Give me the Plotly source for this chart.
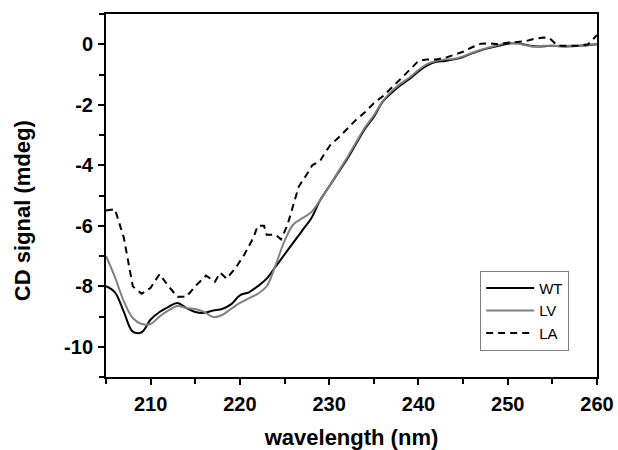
import plotly.graph_objects as go

# wavelength grid (nm) for WT and LV
wavelength = list(range(205, 261))

wt = [-8.0, -8.2, -8.85, -9.5, -9.52, -9.1, -8.85, -8.68, -8.55, -8.72,
      -8.85, -8.88, -8.8, -8.75, -8.6, -8.3, -8.2, -8.0, -7.75, -7.35,
      -6.95, -6.55, -6.15, -5.75, -5.15, -4.7, -4.25, -3.8, -3.3, -2.8,
      -2.4, -1.9, -1.6, -1.35, -1.15, -0.9, -0.7, -0.58, -0.55, -0.5,
      -0.42, -0.3, -0.2, -0.12, -0.05, 0.02, 0.03, -0.02, -0.07, -0.07,
      -0.05, -0.07, -0.07, -0.05, -0.03, 0.0]

lv = [-7.0, -7.7, -8.5, -9.05, -9.25, -9.25, -9.0, -8.8, -8.65, -8.72,
      -8.75, -8.85, -9.02, -8.95, -8.75, -8.55, -8.4, -8.25, -8.0, -7.3,
      -6.5, -5.95, -5.75, -5.55, -5.15, -4.7, -4.22, -3.75, -3.25, -2.75,
      -2.35, -1.88, -1.55, -1.3, -1.1, -0.85, -0.65, -0.55, -0.5, -0.48,
      -0.4, -0.28, -0.18, -0.1, -0.02, 0.05, 0.03, -0.03, -0.08, -0.05,
      -0.05, -0.07, -0.05, -0.05, -0.02, 0.0]

# LA series (coarser)
la_wavelength = [205, 206, 207, 208, 209, 210, 211, 212, 213, 214,
                 215, 216.2, 217.2, 217.8, 218.5, 219.5, 220.5, 221.5, 222, 222.7,
                 223, 224, 224.6, 225.3, 226, 226.6, 227.5, 228.1, 229, 229.5,
                 230.2, 231, 232, 233, 234, 235, 236, 237, 238, 239,
                 240, 241, 242, 243, 244, 245, 246, 247, 248, 249,
                 250, 251, 252, 253, 254, 254.7, 255.5, 256, 257, 258,
                 259, 260]
la = [-5.5, -5.45, -6.4, -8.0, -8.25, -8.05, -7.6, -8.0, -8.35, -8.35,
      -8.0, -7.65, -7.85, -7.55, -7.75, -7.4, -6.95, -6.4, -6.0, -6.0,
      -6.3, -6.3, -6.45, -6.0, -5.3, -4.7, -4.3, -4.0, -3.85, -3.6,
      -3.3, -3.1, -2.8, -2.5, -2.25, -1.95, -1.72, -1.45, -1.15, -0.85,
      -0.55, -0.5, -0.5, -0.45, -0.35, -0.25, -0.1, 0.02, 0.03, 0.0,
      0.05, 0.08, 0.1, 0.18, 0.22, 0.2, -0.03, -0.05, -0.05, -0.05,
      0.0, 0.3]

x_ticks = [210, 220, 230, 240, 250, 260]
x_labels = ["210", "220", "230", "240", "250", "260"]
y_ticks = [0, -2, -4, -6, -8, -10]
y_labels = ["0", "-2", "-4", "-6", "-8", "-10"]
x_title = "wavelength (nm)"
y_title = "CD signal (mdeg)"

FONT = "Liberation Sans, Arial, sans-serif"

fig = go.Figure()
fig.add_trace(go.Scatter(x=wavelength, y=wt, name="WT", mode="lines",
                         line=dict(color="#000000", width=2, shape="spline")))
fig.add_trace(go.Scatter(x=wavelength, y=lv, name="LV", mode="lines",
                         line=dict(color="#808080", width=2, shape="spline")))
fig.add_trace(go.Scatter(x=la_wavelength, y=la, name="LA", mode="lines",
                         line=dict(color="#000000", width=2, dash="7px,5px")))

axis_common = dict(
    showgrid=False, zeroline=False, showline=True, linecolor="#000",
    linewidth=2, mirror=True, ticks="outside", ticklen=6, tickwidth=1.5,
    tickcolor="#000", automargin=False,
    tickfont=dict(family=FONT, size=20, color="#000", weight="bold"),
)

fig.update_layout(
    width=618, height=450,
    margin=dict(l=106, r=21, t=14, b=73),
    plot_bgcolor="white", paper_bgcolor="white",
    xaxis=dict(range=[205, 260], tickvals=x_ticks, ticktext=x_labels,
               ticklabelstandoff=2,
               minor=dict(dtick=5, tick0=205, ticks="outside", ticklen=5,
                          tickwidth=1.5, tickcolor="#000"),
               title=dict(text=x_title, standoff=19,
                          font=dict(family=FONT, size=22, color="#000", weight="bold")),
               **axis_common),
    yaxis=dict(range=[-11, 1], tickvals=y_ticks, ticktext=y_labels,
               ticklabelstandoff=1,
               minor=dict(dtick=1, tick0=-11, ticks="outside", ticklen=5,
                          tickwidth=1.5, tickcolor="#000"),
               **axis_common),
    annotations=[dict(text=y_title, textangle=-90, xref="paper", yref="paper",
                      x=-0.171, y=0.457, xanchor="center", yanchor="middle",
                      showarrow=False,
                      font=dict(family=FONT, size=22, color="#000", weight="bold"))],
    legend=dict(x=0.762, y=0.293, xanchor="left", yanchor="top",
                bordercolor="#808080", borderwidth=1, bgcolor="white",
                font=dict(family=FONT, size=15, color="#000"),
                itemwidth=48, tracegroupgap=0),
    showlegend=True,
)

# remove the default page margin / scrollbars so the figure fills the window
fig.write_html(
    "out.html",
    config={"displayModeBar": False},
    post_script="document.body.style.margin='0';"
                "document.documentElement.style.overflow='hidden';"
                "document.body.style.overflow='hidden';",
)
